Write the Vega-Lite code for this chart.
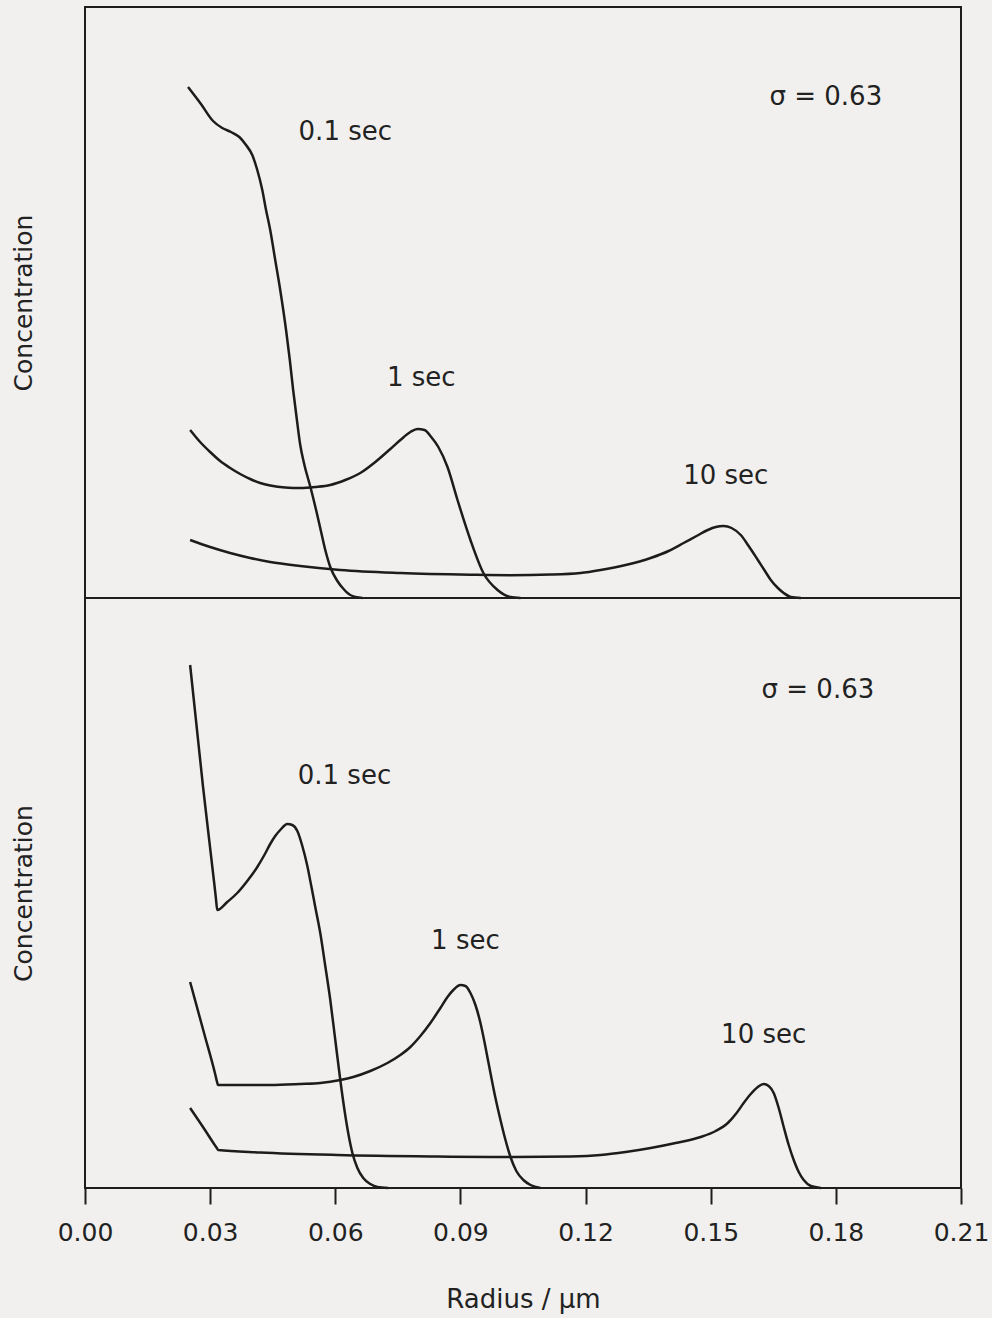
{
  "$schema": "https://vega.github.io/schema/vega-lite/v6.json",
  "background": "#f1f0ee",
  "padding": {"left": 10, "top": 6, "right": 25, "bottom": 5},
  "bounds": "flush",
  "config": {
    "font": "DejaVu Sans",
    "view": {"stroke": "#1e1e1e", "strokeWidth": 2, "fill": null},
    "axis": {"grid": false}
  },
  "datasets": {
    "curves": [
      {"panel":"top","t":"0.1 sec","r":0.0247,"c":511},{"panel":"top","t":"0.1 sec","r":0.0278,"c":494},{"panel":"top","t":"0.1 sec","r":0.0307,"c":477},{"panel":"top","t":"0.1 sec","r":0.0329,"c":470},{"panel":"top","t":"0.1 sec","r":0.035,"c":466},{"panel":"top","t":"0.1 sec","r":0.037,"c":461},{"panel":"top","t":"0.1 sec","r":0.0386,"c":453},{"panel":"top","t":"0.1 sec","r":0.0401,"c":443},{"panel":"top","t":"0.1 sec","r":0.0413,"c":428},{"panel":"top","t":"0.1 sec","r":0.0425,"c":408},{"panel":"top","t":"0.1 sec","r":0.0434,"c":388},{"panel":"top","t":"0.1 sec","r":0.0444,"c":368},{"panel":"top","t":"0.1 sec","r":0.0456,"c":338},{"panel":"top","t":"0.1 sec","r":0.0468,"c":308},{"panel":"top","t":"0.1 sec","r":0.0482,"c":268},{"panel":"top","t":"0.1 sec","r":0.0491,"c":238},{"panel":"top","t":"0.1 sec","r":0.0499,"c":208},{"panel":"top","t":"0.1 sec","r":0.0508,"c":178},{"panel":"top","t":"0.1 sec","r":0.0516,"c":153},{"panel":"top","t":"0.1 sec","r":0.0526,"c":133},{"panel":"top","t":"0.1 sec","r":0.0541,"c":110},{"panel":"top","t":"0.1 sec","r":0.0554,"c":88},{"panel":"top","t":"0.1 sec","r":0.0565,"c":68},{"panel":"top","t":"0.1 sec","r":0.0576,"c":48},{"panel":"top","t":"0.1 sec","r":0.0588,"c":31},{"panel":"top","t":"0.1 sec","r":0.0605,"c":17},{"panel":"top","t":"0.1 sec","r":0.0622,"c":8},{"panel":"top","t":"0.1 sec","r":0.0636,"c":3},{"panel":"top","t":"0.1 sec","r":0.0665,"c":0},
      {"panel":"top","t":"1 sec","r":0.0252,"c":168},{"panel":"top","t":"1 sec","r":0.0276,"c":156},{"panel":"top","t":"1 sec","r":0.03,"c":146},{"panel":"top","t":"1 sec","r":0.0324,"c":137},{"panel":"top","t":"1 sec","r":0.0348,"c":130},{"panel":"top","t":"1 sec","r":0.0372,"c":124},{"panel":"top","t":"1 sec","r":0.0396,"c":119},{"panel":"top","t":"1 sec","r":0.042,"c":115},{"panel":"top","t":"1 sec","r":0.0444,"c":112.5},{"panel":"top","t":"1 sec","r":0.048,"c":110.5},{"panel":"top","t":"1 sec","r":0.0516,"c":110},{"panel":"top","t":"1 sec","r":0.0552,"c":111},{"panel":"top","t":"1 sec","r":0.0588,"c":113},{"panel":"top","t":"1 sec","r":0.0624,"c":118},{"panel":"top","t":"1 sec","r":0.066,"c":125},{"panel":"top","t":"1 sec","r":0.0696,"c":136},{"panel":"top","t":"1 sec","r":0.0732,"c":149},{"panel":"top","t":"1 sec","r":0.0756,"c":158},{"panel":"top","t":"1 sec","r":0.078,"c":166},{"panel":"top","t":"1 sec","r":0.0797,"c":169},{"panel":"top","t":"1 sec","r":0.0814,"c":168},{"panel":"top","t":"1 sec","r":0.083,"c":161},{"panel":"top","t":"1 sec","r":0.0847,"c":151},{"panel":"top","t":"1 sec","r":0.0869,"c":131},{"panel":"top","t":"1 sec","r":0.0893,"c":98},{"panel":"top","t":"1 sec","r":0.0924,"c":58},{"panel":"top","t":"1 sec","r":0.0955,"c":25},{"panel":"top","t":"1 sec","r":0.0989,"c":8},{"panel":"top","t":"1 sec","r":0.102,"c":1},{"panel":"top","t":"1 sec","r":0.1044,"c":0},
      {"panel":"top","t":"10 sec","r":0.0252,"c":58},{"panel":"top","t":"10 sec","r":0.03,"c":51},{"panel":"top","t":"10 sec","r":0.0348,"c":45},{"panel":"top","t":"10 sec","r":0.0396,"c":40},{"panel":"top","t":"10 sec","r":0.0444,"c":36},{"panel":"top","t":"10 sec","r":0.0516,"c":32},{"panel":"top","t":"10 sec","r":0.0612,"c":28},{"panel":"top","t":"10 sec","r":0.0756,"c":25},{"panel":"top","t":"10 sec","r":0.0924,"c":23.3},{"panel":"top","t":"10 sec","r":0.102,"c":22.8},{"panel":"top","t":"10 sec","r":0.1116,"c":23.4},{"panel":"top","t":"10 sec","r":0.1188,"c":25},{"panel":"top","t":"10 sec","r":0.1236,"c":28},{"panel":"top","t":"10 sec","r":0.1296,"c":33},{"panel":"top","t":"10 sec","r":0.1356,"c":40},{"panel":"top","t":"10 sec","r":0.1399,"c":47},{"panel":"top","t":"10 sec","r":0.1435,"c":55},{"panel":"top","t":"10 sec","r":0.1466,"c":62},{"panel":"top","t":"10 sec","r":0.1493,"c":68},{"panel":"top","t":"10 sec","r":0.1512,"c":71},{"panel":"top","t":"10 sec","r":0.1531,"c":72},{"panel":"top","t":"10 sec","r":0.155,"c":70},{"panel":"top","t":"10 sec","r":0.1572,"c":63},{"panel":"top","t":"10 sec","r":0.1591,"c":52},{"panel":"top","t":"10 sec","r":0.1613,"c":38},{"panel":"top","t":"10 sec","r":0.163,"c":27},{"panel":"top","t":"10 sec","r":0.1644,"c":18},{"panel":"top","t":"10 sec","r":0.1661,"c":10},{"panel":"top","t":"10 sec","r":0.1675,"c":5},{"panel":"top","t":"10 sec","r":0.1692,"c":1},{"panel":"top","t":"10 sec","r":0.1716,"c":0},
      {"panel":"bottom","t":"0.1 sec","r":0.0252,"c":523},{"panel":"bottom","t":"0.1 sec","r":0.0283,"c":401},{"panel":"bottom","t":"0.1 sec","r":0.031,"c":304},{"panel":"bottom","t":"0.1 sec","r":0.0314,"c":289},{"panel":"bottom","t":"0.1 sec","r":0.0317,"c":278},{"panel":"bottom","t":"0.1 sec","r":0.0341,"c":286},{"panel":"bottom","t":"0.1 sec","r":0.0365,"c":295},{"panel":"bottom","t":"0.1 sec","r":0.0389,"c":307},{"panel":"bottom","t":"0.1 sec","r":0.0413,"c":321},{"panel":"bottom","t":"0.1 sec","r":0.043,"c":333},{"panel":"bottom","t":"0.1 sec","r":0.0444,"c":344},{"panel":"bottom","t":"0.1 sec","r":0.0456,"c":352},{"panel":"bottom","t":"0.1 sec","r":0.0468,"c":358},{"panel":"bottom","t":"0.1 sec","r":0.0485,"c":364},{"panel":"bottom","t":"0.1 sec","r":0.0497,"c":363},{"panel":"bottom","t":"0.1 sec","r":0.0509,"c":357},{"panel":"bottom","t":"0.1 sec","r":0.0521,"c":342},{"panel":"bottom","t":"0.1 sec","r":0.0533,"c":322},{"panel":"bottom","t":"0.1 sec","r":0.0542,"c":303},{"panel":"bottom","t":"0.1 sec","r":0.0552,"c":281},{"panel":"bottom","t":"0.1 sec","r":0.0564,"c":255},{"panel":"bottom","t":"0.1 sec","r":0.0576,"c":222},{"panel":"bottom","t":"0.1 sec","r":0.0588,"c":188},{"panel":"bottom","t":"0.1 sec","r":0.06,"c":148},{"panel":"bottom","t":"0.1 sec","r":0.0612,"c":108},{"panel":"bottom","t":"0.1 sec","r":0.0622,"c":78},{"panel":"bottom","t":"0.1 sec","r":0.0631,"c":55},{"panel":"bottom","t":"0.1 sec","r":0.0641,"c":35},{"panel":"bottom","t":"0.1 sec","r":0.0653,"c":20},{"panel":"bottom","t":"0.1 sec","r":0.0667,"c":10},{"panel":"bottom","t":"0.1 sec","r":0.0684,"c":4},{"panel":"bottom","t":"0.1 sec","r":0.0701,"c":1},{"panel":"bottom","t":"0.1 sec","r":0.0727,"c":0},
      {"panel":"bottom","t":"1 sec","r":0.0252,"c":206},{"panel":"bottom","t":"1 sec","r":0.0286,"c":154},{"panel":"bottom","t":"1 sec","r":0.0312,"c":114},{"panel":"bottom","t":"1 sec","r":0.0316,"c":107},{"panel":"bottom","t":"1 sec","r":0.0319,"c":103},{"panel":"bottom","t":"1 sec","r":0.0372,"c":103},{"panel":"bottom","t":"1 sec","r":0.0444,"c":103},{"panel":"bottom","t":"1 sec","r":0.0516,"c":104},{"panel":"bottom","t":"1 sec","r":0.0564,"c":105},{"panel":"bottom","t":"1 sec","r":0.0612,"c":108},{"panel":"bottom","t":"1 sec","r":0.0643,"c":111},{"panel":"bottom","t":"1 sec","r":0.0684,"c":117},{"panel":"bottom","t":"1 sec","r":0.0725,"c":125},{"panel":"bottom","t":"1 sec","r":0.0756,"c":133},{"panel":"bottom","t":"1 sec","r":0.078,"c":141},{"panel":"bottom","t":"1 sec","r":0.0804,"c":152},{"panel":"bottom","t":"1 sec","r":0.0828,"c":165},{"panel":"bottom","t":"1 sec","r":0.0852,"c":180},{"panel":"bottom","t":"1 sec","r":0.0869,"c":191},{"panel":"bottom","t":"1 sec","r":0.0883,"c":198},{"panel":"bottom","t":"1 sec","r":0.09,"c":203},{"panel":"bottom","t":"1 sec","r":0.0912,"c":202},{"panel":"bottom","t":"1 sec","r":0.0924,"c":195},{"panel":"bottom","t":"1 sec","r":0.0936,"c":183},{"panel":"bottom","t":"1 sec","r":0.0948,"c":165},{"panel":"bottom","t":"1 sec","r":0.096,"c":141},{"panel":"bottom","t":"1 sec","r":0.0972,"c":115},{"panel":"bottom","t":"1 sec","r":0.0984,"c":90},{"panel":"bottom","t":"1 sec","r":0.0996,"c":68},{"panel":"bottom","t":"1 sec","r":0.1008,"c":48},{"panel":"bottom","t":"1 sec","r":0.102,"c":31},{"panel":"bottom","t":"1 sec","r":0.1034,"c":17},{"panel":"bottom","t":"1 sec","r":0.1051,"c":8},{"panel":"bottom","t":"1 sec","r":0.1068,"c":3},{"panel":"bottom","t":"1 sec","r":0.1092,"c":0},
      {"panel":"bottom","t":"10 sec","r":0.0252,"c":80},{"panel":"bottom","t":"10 sec","r":0.0286,"c":59},{"panel":"bottom","t":"10 sec","r":0.0312,"c":42.4},{"panel":"bottom","t":"10 sec","r":0.0316,"c":40},{"panel":"bottom","t":"10 sec","r":0.0319,"c":38},{"panel":"bottom","t":"10 sec","r":0.042,"c":35.5},{"panel":"bottom","t":"10 sec","r":0.0605,"c":33},{"panel":"bottom","t":"10 sec","r":0.0845,"c":31.5},{"panel":"bottom","t":"10 sec","r":0.1,"c":31},{"panel":"bottom","t":"10 sec","r":0.1164,"c":31.6},{"panel":"bottom","t":"10 sec","r":0.1236,"c":33},{"panel":"bottom","t":"10 sec","r":0.1296,"c":36},{"panel":"bottom","t":"10 sec","r":0.1356,"c":40},{"panel":"bottom","t":"10 sec","r":0.1416,"c":45},{"panel":"bottom","t":"10 sec","r":0.1476,"c":51},{"panel":"bottom","t":"10 sec","r":0.1512,"c":57},{"panel":"bottom","t":"10 sec","r":0.1541,"c":65},{"panel":"bottom","t":"10 sec","r":0.1562,"c":75},{"panel":"bottom","t":"10 sec","r":0.1579,"c":85},{"panel":"bottom","t":"10 sec","r":0.1596,"c":94},{"panel":"bottom","t":"10 sec","r":0.1613,"c":101},{"panel":"bottom","t":"10 sec","r":0.1627,"c":104},{"panel":"bottom","t":"10 sec","r":0.1639,"c":102},{"panel":"bottom","t":"10 sec","r":0.1651,"c":95},{"panel":"bottom","t":"10 sec","r":0.1663,"c":80},{"panel":"bottom","t":"10 sec","r":0.1675,"c":61},{"panel":"bottom","t":"10 sec","r":0.1687,"c":43},{"panel":"bottom","t":"10 sec","r":0.1699,"c":28},{"panel":"bottom","t":"10 sec","r":0.1711,"c":16},{"panel":"bottom","t":"10 sec","r":0.1723,"c":8},{"panel":"bottom","t":"10 sec","r":0.174,"c":2},{"panel":"bottom","t":"10 sec","r":0.1764,"c":0}
    ],
    "labels": [
      {"panel":"top","label":"σ = 0.63","r":0.1776,"c":501},
      {"panel":"top","label":"0.1 sec","r":0.0624,"c":466},
      {"panel":"top","label":"1 sec","r":0.0806,"c":220},
      {"panel":"top","label":"10 sec","r":0.1536,"c":122},
      {"panel":"bottom","label":"σ = 0.63","r":0.1757,"c":498},
      {"panel":"bottom","label":"0.1 sec","r":0.0622,"c":412},
      {"panel":"bottom","label":"1 sec","r":0.0912,"c":247},
      {"panel":"bottom","label":"10 sec","r":0.1627,"c":153}
    ]
  },
  "spacing": 0,
  "vconcat": [
    {
      "width": 876,
      "height": 591,
      "layer": [
        {
          "data": {"name": "curves"},
          "transform": [{"filter": "datum.panel === 'top'"}],
          "mark": {"type": "line", "color": "#1c1c1c", "strokeWidth": 2.5, "interpolate": "monotone"},
          "encoding": {
            "x": {"field": "r", "type": "quantitative", "scale": {"domain": [0, 0.21], "nice": false}, "axis": null},
            "y": {"field": "c", "type": "quantitative", "scale": {"domain": [0, 591], "nice": false},
                  "axis": {"title": "Concentration", "labels": false, "ticks": false, "domain": false, "titleFontSize": 25, "titleFontWeight": "normal", "titleColor": "#222", "titlePadding": 49, "titleFont": "DejaVu Sans"}},
            "detail": {"field": "t"}
          }
        },
        {
          "data": {"name": "labels"},
          "transform": [{"filter": "datum.panel === 'top'"}],
          "mark": {"type": "text", "fontSize": 26, "color": "#222", "align": "center", "baseline": "middle"},
          "encoding": {
            "x": {"field": "r", "type": "quantitative"},
            "y": {"field": "c", "type": "quantitative"},
            "text": {"field": "label"}
          }
        }
      ]
    },
    {
      "width": 876,
      "height": 590,
      "layer": [
        {
          "data": {"name": "curves"},
          "transform": [{"filter": "datum.panel === 'bottom'"}],
          "mark": {"type": "line", "color": "#1c1c1c", "strokeWidth": 2.5, "interpolate": "monotone"},
          "encoding": {
            "x": {"field": "r", "type": "quantitative", "scale": {"domain": [0, 0.21], "nice": false},
                  "axis": {"title": "Radius / µm", "values": [0, 0.03, 0.06, 0.09, 0.12, 0.15, 0.18, 0.21], "format": ".2f", "domain": false, "tickSize": 16, "tickWidth": 2, "tickColor": "#1e1e1e", "labelFontSize": 25, "labelColor": "#222", "labelPadding": 16, "labelFont": "DejaVu Sans", "labelFlush": false, "titleFontSize": 26, "titleFontWeight": "normal", "titleColor": "#222", "titlePadding": 41, "titleFont": "DejaVu Sans"}},
            "y": {"field": "c", "type": "quantitative", "scale": {"domain": [0, 590], "nice": false},
                  "axis": {"title": "Concentration", "labels": false, "ticks": false, "domain": false, "titleFontSize": 25, "titleFontWeight": "normal", "titleColor": "#222", "titlePadding": 49, "titleFont": "DejaVu Sans"}},
            "detail": {"field": "t"}
          }
        },
        {
          "data": {"name": "labels"},
          "transform": [{"filter": "datum.panel === 'bottom'"}],
          "mark": {"type": "text", "fontSize": 26, "color": "#222", "align": "center", "baseline": "middle"},
          "encoding": {
            "x": {"field": "r", "type": "quantitative"},
            "y": {"field": "c", "type": "quantitative"},
            "text": {"field": "label"}
          }
        }
      ]
    }
  ]
}
